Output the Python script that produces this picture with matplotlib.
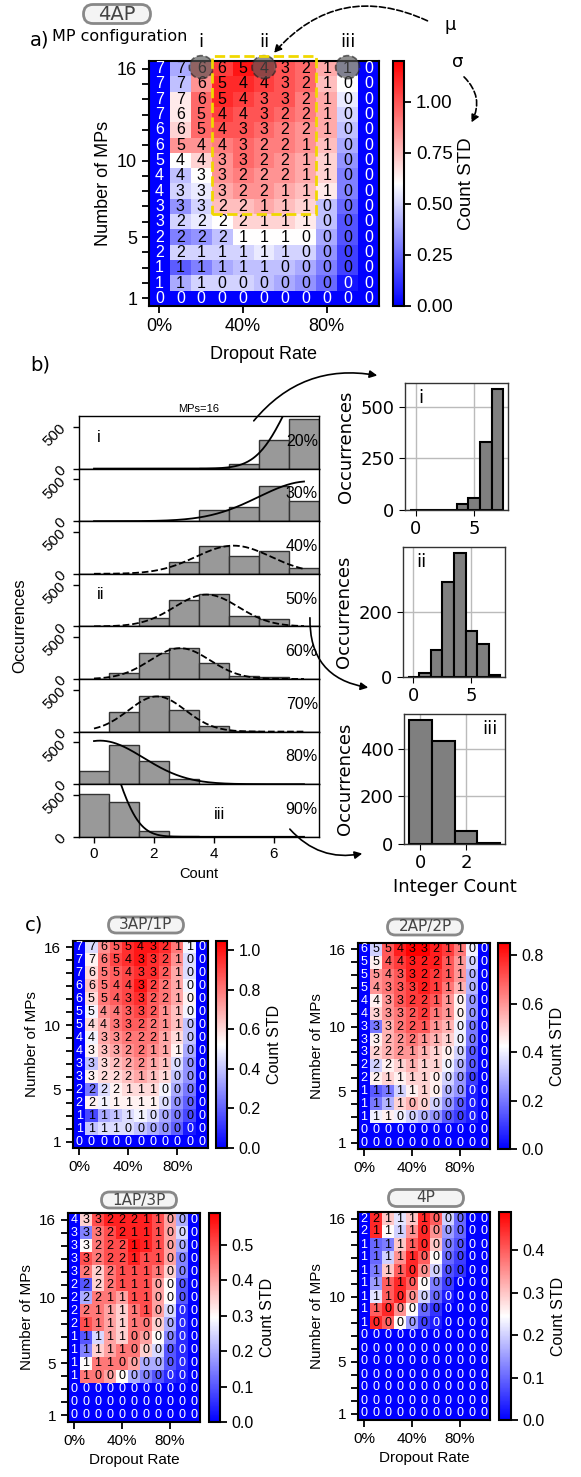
import numpy as np
import matplotlib
matplotlib.use('Agg')
import matplotlib.pyplot as plt
from matplotlib.patches import Ellipse, Rectangle, FancyBboxPatch, FancyArrowPatch

plt.rcParams.update({
    'font.family': 'Liberation Sans',
    'axes.linewidth': 1.5,
})

# ---------------- data ----------------
DROPOUT = [0, 10, 20, 30, 40, 50, 60, 70, 80, 90, 100]
MPS = list(range(16, 0, -1))          # rows from top (16) to bottom (1)

# panel a: 4AP  (rounded mean count, count STD)
A_MEAN = [
    [7, 7, 6, 6, 5, 4, 3, 2, 1, 1, 0],
    [7, 7, 6, 5, 4, 4, 3, 2, 1, 0, 0],
    [7, 7, 6, 5, 4, 3, 3, 2, 1, 0, 0],
    [7, 6, 5, 4, 4, 3, 2, 2, 1, 0, 0],
    [6, 6, 5, 4, 3, 3, 2, 2, 1, 0, 0],
    [6, 5, 4, 4, 3, 2, 2, 1, 1, 0, 0],
    [5, 4, 4, 3, 3, 2, 2, 1, 1, 0, 0],
    [4, 4, 3, 3, 2, 2, 2, 1, 1, 0, 0],
    [4, 3, 3, 3, 2, 2, 1, 1, 1, 0, 0],
    [3, 3, 3, 2, 2, 1, 1, 1, 0, 0, 0],
    [3, 2, 2, 2, 2, 1, 1, 1, 0, 0, 0],
    [2, 2, 2, 2, 1, 1, 1, 0, 0, 0, 0],
    [2, 2, 1, 1, 1, 1, 1, 0, 0, 0, 0],
    [1, 1, 1, 1, 1, 1, 0, 0, 0, 0, 0],
    [1, 1, 1, 0, 0, 0, 0, 0, 0, 0, 0],
    [0, 0, 0, 0, 0, 0, 0, 0, 0, 0, 0],
]
A_STD = [
    [0, .40, .90, 1.05, 1.15, 1.10, 1.00, .95, .80, .50, 0],
    [0, .45, .85, 1.10, 1.10, 1.05, 1.00, .95, .75, .60, 0],
    [0, .65, .95, 1.10, 1.05, 1.00, 1.00, .90, .80, .55, 0],
    [0, .65, .95, 1.05, 1.00, 1.00, .95, .90, .80, .50, 0],
    [0, .70, .95, 1.00, 1.00, .95, .90, .85, .80, .45, 0],
    [0, .85, .85, .90, .95, .90, .90, .85, .75, .40, 0],
    [0, .60, .70, .85, .95, .90, .85, .80, .70, .35, 0],
    [0, .45, .60, .85, .90, .85, .85, .80, .70, .30, 0],
    [0, .50, .55, .80, .85, .85, .80, .75, .65, .30, 0],
    [0, .35, .50, .75, .75, .80, .75, .70, .45, .25, 0],
    [0, .50, .55, .60, .70, .70, .70, .65, .45, .20, 0],
    [0, .30, .35, .45, .60, .60, .60, .60, .40, .20, 0],
    [0, .50, .50, .50, .50, .55, .50, .50, .35, .15, 0],
    [0, .22, .30, .40, .45, .45, .45, .40, .30, .15, 0],
    [0, .40, .50, .50, .50, .45, .40, .35, .25, .05, 0],
    [0, 0, 0, 0, 0, 0, 0, 0, 0, 0, 0],
]

# panel c: 3AP/1P
C1_MEAN = [
    [7, 7, 6, 5, 5, 4, 3, 2, 1, 1, 0],
    [7, 7, 6, 5, 4, 3, 3, 2, 1, 0, 0],
    [7, 6, 5, 5, 4, 3, 3, 2, 1, 0, 0],
    [6, 6, 5, 4, 4, 3, 2, 2, 1, 0, 0],
    [6, 5, 5, 4, 3, 3, 2, 2, 1, 0, 0],
    [5, 5, 4, 4, 3, 3, 2, 1, 1, 0, 0],
    [5, 4, 4, 3, 3, 2, 2, 1, 1, 0, 0],
    [4, 4, 3, 3, 2, 2, 2, 1, 1, 0, 0],
    [4, 3, 3, 3, 2, 2, 1, 1, 1, 0, 0],
    [3, 3, 3, 2, 2, 2, 1, 1, 0, 0, 0],
    [3, 3, 2, 2, 2, 1, 1, 1, 0, 0, 0],
    [2, 2, 2, 2, 1, 1, 1, 0, 0, 0, 0],
    [2, 2, 1, 1, 1, 1, 1, 0, 0, 0, 0],
    [1, 1, 1, 1, 1, 1, 0, 0, 0, 0, 0],
    [1, 1, 1, 1, 0, 0, 0, 0, 0, 0, 0],
    [0, 0, 0, 0, 0, 0, 0, 0, 0, 0, 0],
]
C1_STD = [
    [0, .45, .75, .85, .95, 1.00, 1.00, .95, .80, .50, 0],
    [0, .55, .80, .90, .95, 1.00, .95, .90, .75, .45, 0],
    [0, .60, .80, .85, .90, .95, .95, .85, .70, .45, 0],
    [0, .65, .80, .85, .90, 1.00, .90, .80, .70, .50, 0],
    [0, .60, .80, .85, .90, .95, .85, .80, .70, .55, 0],
    [0, .50, .75, .80, .85, .90, .85, .75, .65, .50, 0],
    [0, .60, .70, .80, .85, .85, .80, .75, .65, .40, 0],
    [0, .50, .70, .75, .80, .80, .80, .70, .60, .40, 0],
    [0, .55, .65, .70, .75, .80, .75, .70, .55, .35, 0],
    [0, .40, .60, .65, .70, .75, .70, .65, .45, .30, 0],
    [0, .55, .60, .60, .65, .70, .65, .60, .40, .30, 0],
    [0, .25, .45, .55, .60, .60, .60, .50, .35, .25, 0],
    [0, .55, .50, .55, .55, .55, .55, .45, .30, .20, 0],
    [0, .15, .35, .40, .45, .50, .45, .35, .25, .15, 0],
    [0, .40, .45, .45, .45, .40, .35, .30, .20, .05, 0],
    [0, 0, 0, 0, 0, 0, 0, 0, 0, 0, 0],
]

# panel c: 2AP/2P
C2_MEAN = [
    [6, 5, 5, 4, 3, 3, 2, 1, 1, 0, 0],
    [5, 5, 4, 4, 3, 2, 2, 1, 1, 0, 0],
    [5, 5, 4, 3, 3, 2, 2, 1, 1, 0, 0],
    [5, 4, 3, 3, 3, 2, 1, 1, 1, 0, 0],
    [4, 4, 3, 3, 2, 2, 1, 1, 0, 0, 0],
    [4, 3, 3, 3, 2, 2, 1, 1, 0, 0, 0],
    [3, 3, 3, 2, 2, 1, 1, 1, 0, 0, 0],
    [3, 3, 2, 2, 2, 1, 1, 1, 0, 0, 0],
    [3, 2, 2, 2, 1, 1, 1, 0, 0, 0, 0],
    [2, 2, 2, 1, 1, 1, 1, 0, 0, 0, 0],
    [2, 2, 1, 1, 1, 1, 0, 0, 0, 0, 0],
    [1, 1, 1, 1, 1, 1, 0, 0, 0, 0, 0],
    [1, 1, 1, 1, 0, 0, 0, 0, 0, 0, 0],
    [1, 1, 1, 0, 0, 0, 0, 0, 0, 0, 0],
    [0, 0, 0, 0, 0, 0, 0, 0, 0, 0, 0],
    [0, 0, 0, 0, 0, 0, 0, 0, 0, 0, 0],
]
C2_STD = [
    [0, .35, .70, .80, .85, .85, .80, .75, .65, .40, 0],
    [0, .45, .70, .75, .80, .80, .80, .70, .60, .35, 0],
    [0, .60, .65, .70, .80, .80, .75, .70, .60, .30, 0],
    [0, .60, .65, .70, .75, .80, .75, .65, .55, .30, 0],
    [0, .45, .60, .70, .75, .75, .70, .60, .45, .25, 0],
    [0, .50, .60, .65, .70, .75, .65, .60, .45, .25, 0],
    [0, .20, .55, .65, .70, .70, .60, .55, .40, .20, 0],
    [0, .45, .55, .60, .65, .60, .55, .50, .40, .20, 0],
    [0, .50, .55, .60, .60, .55, .50, .45, .35, .15, 0],
    [0, .35, .45, .50, .55, .50, .50, .40, .30, .15, 0],
    [0, .45, .50, .45, .50, .50, .45, .35, .25, .10, 0],
    [0, .15, .20, .35, .45, .50, .45, .30, .25, .05, 0],
    [0, .20, .30, .50, .55, .50, .35, .25, .15, .05, 0],
    [0, .40, .45, .40, .35, .30, .25, .15, .10, .05, 0],
    [0, 0, 0, 0, 0, 0, 0, 0, 0, 0, 0],
    [0, 0, 0, 0, 0, 0, 0, 0, 0, 0, 0],
]

# panel c: 1AP/3P
C3_MEAN = [
    [4, 3, 3, 2, 2, 2, 1, 1, 0, 0, 0],
    [3, 3, 3, 2, 2, 1, 1, 1, 0, 0, 0],
    [3, 3, 2, 2, 2, 1, 1, 1, 0, 0, 0],
    [3, 3, 2, 2, 2, 1, 1, 1, 0, 0, 0],
    [3, 2, 2, 2, 1, 1, 1, 1, 0, 0, 0],
    [2, 2, 2, 2, 1, 1, 1, 0, 0, 0, 0],
    [2, 2, 2, 1, 1, 1, 1, 0, 0, 0, 0],
    [2, 2, 1, 1, 1, 1, 1, 0, 0, 0, 0],
    [2, 1, 1, 1, 1, 1, 0, 0, 0, 0, 0],
    [1, 1, 1, 1, 1, 0, 0, 0, 0, 0, 0],
    [1, 1, 1, 1, 1, 0, 0, 0, 0, 0, 0],
    [1, 1, 1, 1, 0, 0, 0, 0, 0, 0, 0],
    [1, 1, 0, 0, 0, 0, 0, 0, 0, 0, 0],
    [0, 0, 0, 0, 0, 0, 0, 0, 0, 0, 0],
    [0, 0, 0, 0, 0, 0, 0, 0, 0, 0, 0],
    [0, 0, 0, 0, 0, 0, 0, 0, 0, 0, 0],
]
C3_STD = [
    [0, .35, .50, .55, .55, .55, .55, .50, .40, .20, 0],
    [0, .15, .45, .50, .55, .55, .55, .50, .40, .25, 0],
    [0, .30, .45, .50, .50, .57, .55, .50, .40, .20, 0],
    [0, .50, .45, .50, .50, .55, .50, .50, .40, .15, 0],
    [0, .45, .35, .45, .50, .50, .50, .45, .35, .15, 0],
    [0, .10, .35, .45, .50, .50, .50, .40, .30, .10, 0],
    [0, .20, .45, .45, .40, .50, .50, .40, .30, .10, 0],
    [0, .45, .45, .40, .35, .45, .50, .40, .25, .05, 0],
    [0, .50, .45, .40, .35, .45, .45, .35, .20, .05, 0],
    [0, .10, .25, .40, .35, .45, .40, .30, .15, .05, 0],
    [0, .15, .35, .40, .45, .45, .35, .25, .10, .05, 0],
    [0, .30, .45, .45, .45, .40, .20, .20, .10, .05, 0],
    [0, .45, .45, .40, .30, .20, .15, .10, .05, .03, 0],
    [0, 0, 0, 0, 0, 0, 0, 0, 0, 0, 0],
    [0, 0, 0, 0, 0, 0, 0, 0, 0, 0, 0],
    [0, 0, 0, 0, 0, 0, 0, 0, 0, 0, 0],
]

# panel c: 4P
C4_MEAN = [
    [2, 2, 1, 1, 1, 1, 0, 0, 0, 0, 0],
    [2, 1, 1, 1, 1, 0, 0, 0, 0, 0, 0],
    [1, 1, 1, 1, 1, 0, 0, 0, 0, 0, 0],
    [1, 1, 1, 1, 1, 0, 0, 0, 0, 0, 0],
    [1, 1, 1, 1, 0, 0, 0, 0, 0, 0, 0],
    [1, 1, 1, 1, 0, 0, 0, 0, 0, 0, 0],
    [1, 1, 1, 0, 0, 0, 0, 0, 0, 0, 0],
    [1, 1, 0, 0, 0, 0, 0, 0, 0, 0, 0],
    [1, 0, 0, 0, 0, 0, 0, 0, 0, 0, 0],
] + [[0] * 11 for _ in range(7)]
C4_STD = [
    [0, .45, .30, .22, .30, .45, .40, .20, .10, 0, 0],
    [0, .45, .25, .20, .35, .45, .35, .15, .10, 0, 0],
    [0, .10, .12, .30, .40, .45, .30, .12, .08, 0, 0],
    [0, .10, .20, .35, .45, .40, .25, .10, .06, 0, 0],
    [0, .12, .30, .40, .45, .35, .20, .08, .05, 0, 0],
    [0, .15, .40, .45, .40, .25, .12, .06, 0, 0, 0],
    [0, .22, .40, .45, .35, .20, .10, .03, 0, 0, 0],
    [0, .40, .45, .35, .25, .10, .05, 0, 0, 0, 0],
    [0, .45, .40, .25, .15, .06, .03, 0, 0, 0, 0],
] + [[0] * 11 for _ in range(7)]

# panel b: histograms of the count for 16 MPs
COUNT_BINS = [0, 1, 2, 3, 4, 5, 6, 7]
RATE_LABELS = ['20%', '30%', '40%', '50%', '60%', '70%', '80%', '90%']
HIST_20 = [0, 0, 0, 0, 10, 56, 336, 596]
HIST_30 = [0, 0, 0, 8, 128, 168, 420, 240]
HIST_40 = [0, 0, 0, 136, 328, 216, 268, 68]
HIST_50 = [0, 0, 100, 312, 388, 120, 88, 4]
HIST_60 = [0, 68, 308, 368, 196, 36, 20, 0]
HIST_70 = [0, 232, 420, 252, 72, 10, 0, 0]
HIST_80 = [160, 464, 280, 68, 8, 0, 0, 0]
HIST_90 = [508, 412, 72, 8, 0, 0, 0, 0]
# fitted gaussians (mu, sigma, peak)
CURVE_MU = [7.4, 7.16, 4.65, 3.75, 2.87, 2.1, 0.2, 0.0]
CURVE_SIGMA = [0.99, 1.68, 1.25, 1.07, 1.0, 0.95, 1.45, 0.75]
CURVE_PEAK = [1165, 476, 336, 380, 368, 420, 520, 1280]
CURVE_DASHED = [False, False, True, True, True, True, False, False]

SIDE_I = [0, 0, 0, 0, 27, 56, 331, 585]
SIDE_II = [1, 12, 83, 293, 381, 141, 101, 5]
SIDE_III_BINS = [0, 1, 2, 3]
SIDE_III = [520, 431, 55, 5]

# ---------------- layout helpers ----------------
W, H = 581, 1477
fig = plt.figure(figsize=(W / 100, H / 100), dpi=100)


def px_axes(x0, y0, x1, y1):
    return fig.add_axes([x0 / W, 1 - y1 / H, (x1 - x0) / W, (y1 - y0) / H])


def draw_heatmap(ax, cax, means, stds, vmax, cticks, cfmt, num_fs, tick_fs, cb_fs, xlabel=True):
    std = np.array(stds, dtype=float)
    im = ax.imshow(std, cmap='bwr', vmin=0, vmax=vmax, aspect='auto',
                   extent=(-5, 105, 0.5, 16.5), interpolation='nearest')
    for i, row in enumerate(means):
        for j, v in enumerate(row):
            col = 'white' if std[i, j] < 0.1 * vmax else 'black'
            ax.text(DROPOUT[j], MPS[i], str(v), ha='center', va='center',
                    color=col, fontsize=num_fs)
    ax.set_xticks([0, 40, 80])
    ax.set_xticklabels(['0%', '40%', '80%'])
    ax.set_yticks(range(1, 17))
    ax.set_yticklabels([str(n) if n in (1, 5, 10, 16) else '' for n in range(1, 17)])
    ax.tick_params(labelsize=tick_fs, length=5, width=1.3)
    ax.set_ylabel('Number of MPs', fontsize=tick_fs)
    if xlabel:
        ax.set_xlabel('Dropout Rate', fontsize=tick_fs)
    cb = fig.colorbar(im, cax=cax, ticks=cticks)
    cb.ax.set_yticklabels([cfmt % t for t in cticks])
    cb.ax.tick_params(labelsize=cb_fs, length=5, width=1.3)
    cb.outline.set_linewidth(1.5)
    cb.set_label('Count STD', fontsize=cb_fs)
    return im


# ---------------- panel a ----------------
ax_a = px_axes(149, 61, 379, 306)
cax_a = px_axes(393, 61, 404, 306)
draw_heatmap(ax_a, cax_a, A_MEAN, A_STD, 1.2, [0, 0.25, 0.5, 0.75, 1.0], '%.2f', 11.5, 13, 13.5)
ax_a.xaxis.labelpad = 8

# highlighted cells and box
for xc, lab in zip([20, 50, 90], ['i', 'ii', 'iii']):
    ax_a.add_patch(Ellipse((xc, 16.1), 11.5, 1.5, facecolor='#555555', alpha=0.65,
                           edgecolor='#222222', ls='--', lw=1.2, clip_on=False, zorder=5))
    ax_a.text(xc, 17.75, lab, ha='center', va='center', fontsize=13,
              family='DejaVu Sans', clip_on=False)
ax_a.add_patch(Rectangle((25, 6.5), 50, 10.35, fill=False, edgecolor='#f0d800',
                         ls='--', lw=2, clip_on=False, zorder=6))

# ---------------- panel b ----------------
hists = [HIST_20, HIST_30, HIST_40, HIST_50, HIST_60, HIST_70, HIST_80, HIST_90]
top, step = 416, 52.6
xs = np.linspace(0, 7, 200)
stack_axes = []
for k, counts in enumerate(hists):
    ax = px_axes(79, top + k * step, 319, top + (k + 1) * step)
    stack_axes.append(ax)
    ax.bar(COUNT_BINS, counts, width=1.0, color='#999999', edgecolor='#333333', lw=1.0)
    curve = CURVE_PEAK[k] * np.exp(-(xs - CURVE_MU[k]) ** 2 / (2 * CURVE_SIGMA[k] ** 2))
    ax.plot(xs, curve, color='black', lw=1.3, ls='--' if CURVE_DASHED[k] else '-')
    ax.set_xlim(-0.5, 7.5)
    ax.set_ylim(0, 628)
    ax.set_yticks([0, 500])
    ax.set_yticklabels(['0', '500'], rotation=45, fontsize=11)
    ax.tick_params(length=4, width=1)
    for s in ax.spines.values():
        s.set_linewidth(1.0)
    ax.text(0.995, 0.52, RATE_LABELS[k], transform=ax.transAxes, ha='right',
            va='center', fontsize=11.5)
    if k < 7:
        ax.set_xticks([])
    else:
        ax.set_xticks([0, 2, 4, 6])
        ax.tick_params(axis='x', labelsize=11)
        ax.set_xlabel('Count', fontsize=10.5)
stack_axes[0].set_title('MPs=16', fontsize=8, pad=3)
stack_axes[0].text(0.075, 0.6, 'i', transform=stack_axes[0].transAxes, fontsize=12, va='center')
stack_axes[3].text(0.075, 0.6, 'ii', transform=stack_axes[3].transAxes, fontsize=12, va='center')
stack_axes[7].text(0.56, 0.42, 'iii', transform=stack_axes[7].transAxes, fontsize=12, va='center')


def side_hist(box, bins, counts, xt, yt, lab, lab_pos, xlabel=None):
    ax = px_axes(*box)
    ax.set_axisbelow(True)
    ax.grid(True, color='#bbbbbb', lw=1)
    ax.bar(bins, counts, width=1.0, color='#7f7f7f', edgecolor='black', lw=1.5)
    ax.set_xticks(xt)
    ax.set_yticks(yt)
    ax.tick_params(labelsize=13, length=4, labelfontfamily='DejaVu Sans')
    ax.set_ylabel('Occurrences', fontsize=13, family='DejaVu Sans')
    for s in ax.spines.values():
        s.set_linewidth(1.0)
        s.set_color('#333333')
    ax.text(lab_pos[0], lab_pos[1], lab, transform=ax.transAxes, fontsize=13,
            family='DejaVu Sans', ha='left' if lab_pos[0] < 0.5 else 'right', va='top')
    if xlabel:
        ax.set_xlabel(xlabel, fontsize=13, family='DejaVu Sans')
    return ax


side_hist((405, 383, 508, 510), COUNT_BINS, SIDE_I, [0, 5], [0, 250, 500], 'i', (0.13, 0.95))
side_hist((403, 547, 505, 677), COUNT_BINS, SIDE_II, [0, 5], [0, 200], 'ii', (0.13, 0.95))
side_hist((404, 714, 505, 844), SIDE_III_BINS, SIDE_III, [0, 2], [0, 200, 400], 'iii',
          (0.93, 0.95), xlabel='Integer Count')

# ---------------- panel c ----------------
ax = px_axes(73, 941, 208, 1148)
cax = px_axes(216, 941, 227, 1148)
draw_heatmap(ax, cax, C1_MEAN, C1_STD, 1.045, [0, 0.2, 0.4, 0.6, 0.8, 1.0], '%.1f', 9, 11, 11.5, xlabel=False)
ax = px_axes(358, 943, 490, 1149)
cax = px_axes(498, 943, 510, 1149)
draw_heatmap(ax, cax, C2_MEAN, C2_STD, 0.85, [0, 0.2, 0.4, 0.6, 0.8], '%.1f', 9, 11, 11.5, xlabel=False)
ax = px_axes(68, 1213, 200, 1422)
cax = px_axes(209, 1213, 220, 1422)
draw_heatmap(ax, cax, C3_MEAN, C3_STD, 0.59, [0, 0.1, 0.2, 0.3, 0.4, 0.5], '%.1f', 9, 11, 11.5)
ax = px_axes(358, 1212, 490, 1420)
cax = px_axes(499, 1212, 511, 1420)
draw_heatmap(ax, cax, C4_MEAN, C4_STD, 0.49, [0, 0.1, 0.2, 0.3, 0.4], '%.1f', 9, 11, 11.5)

# ---------------- overlay: labels, badges, arrows ----------------
ov = fig.add_axes([0, 0, 1, 1], zorder=20)
ov.set_xlim(0, W)
ov.set_ylim(H, 0)
ov.axis('off')

dv = dict(family='DejaVu Sans')
ov.text(30, 40, 'a)', fontsize=14, va='center', **dv)
ov.text(30, 365, 'b)', fontsize=14, va='center', **dv)
ov.text(25, 925, 'c)', fontsize=14, va='center', **dv)
ov.text(120, 36, 'MP configuration', fontsize=11.5, ha='center', va='center', **dv)
ov.text(450, 25, 'μ', fontsize=13, ha='center', va='center', **dv)
ov.text(458, 62, 'σ', fontsize=13, ha='center', va='center', **dv)
ov.text(20, 626, 'Occurrences', fontsize=12, rotation=90, ha='center', va='center')


def badge(cx, cy, w, h, label, fs):
    ov.add_patch(FancyBboxPatch((cx - w / 2, cy - h / 2), w, h,
                                boxstyle='round,pad=0,rounding_size=%g' % (h / 2),
                                facecolor='#f4f4f4', edgecolor='#888888', lw=2))
    ov.text(cx, cy, label, ha='center', va='center', fontsize=fs, color='#444444', **dv)


badge(117, 14, 67, 19, '4AP', 14)
badge(146, 925, 75, 16, '3AP/1P', 11)
badge(425, 927, 75, 16, '2AP/2P', 11)
badge(139, 1200, 75, 16, '1AP/3P', 11)
badge(426, 1198, 75, 17, '4P', 11)


def arrow(p0, p1, rad, ls='-'):
    ov.add_patch(FancyArrowPatch(p0, p1, connectionstyle='arc3,rad=%g' % rad,
                                 arrowstyle='-|>', mutation_scale=11, lw=1.2,
                                 color='black', ls=ls))


arrow((430, 22), (272, 55), 0.38, ls='--')
arrow((462, 75), (470, 125), -0.4, ls='--')
arrow((252, 423), (380, 376), -0.3)
arrow((310, 615), (371, 688), 0.45)
arrow((288, 827), (365, 853), 0.3)

fig.savefig('out.png', dpi=100)
